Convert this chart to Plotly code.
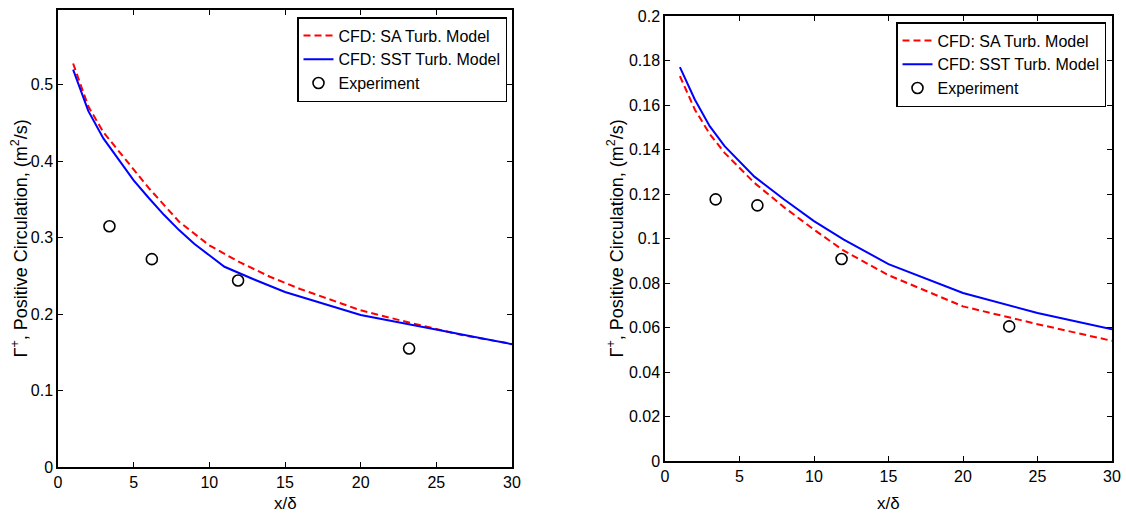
import plotly.graph_objects as go

# ---------------- data: left panel ----------------
left_sa_x = [1, 2, 3, 4, 6, 8, 10, 12, 14, 16, 18, 20, 23, 26.6, 30]
left_sa_y = [0.528, 0.472, 0.438, 0.414, 0.365, 0.321, 0.290, 0.268, 0.249, 0.233, 0.219, 0.205, 0.190, 0.173, 0.161]
left_sst_x = [1, 2, 3, 4, 5, 6, 7, 8, 9, 10, 11, 13, 15, 20, 25, 30]
left_sst_y = [0.520, 0.466, 0.430, 0.402, 0.375, 0.352, 0.330, 0.310, 0.292, 0.277, 0.262, 0.245, 0.229, 0.199, 0.180, 0.1607]
left_exp_x = [3.4, 6.2, 11.9, 23.2]
left_exp_y = [0.315, 0.272, 0.244, 0.155]

# ---------------- data: right panel ----------------
right_sa_x = [1, 2, 3, 4, 6, 8, 10, 12, 15, 20, 25, 30]
right_sa_y = [0.1730, 0.1580, 0.1470, 0.1385, 0.1250, 0.1140, 0.1040, 0.0945, 0.0835, 0.0695, 0.0615, 0.0540]
right_sst_x = [1, 2, 3, 4, 6, 8, 10, 12, 15, 20, 25, 30]
right_sst_y = [0.1770, 0.1625, 0.1505, 0.1415, 0.1278, 0.1175, 0.1078, 0.0995, 0.0885, 0.0755, 0.0665, 0.0592]
right_exp_x = [3.4, 6.2, 11.85, 23.1]
right_exp_y = [0.1176, 0.1149, 0.0908, 0.0605]

# ---------------- ticks / labels ----------------
x_ticks = [0, 5, 10, 15, 20, 25, 30]
x_ticktext = ["0", "5", "10", "15", "20", "25", "30"]
left_y_ticks = [0, 0.1, 0.2, 0.3, 0.4, 0.5]
left_y_ticktext = ["0", "0.1", "0.2", "0.3", "0.4", "0.5"]
right_y_ticks = [0, 0.02, 0.04, 0.06, 0.08, 0.1, 0.12, 0.14, 0.16, 0.18, 0.2]
right_y_ticktext = ["0", "0.02", "0.04", "0.06", "0.08", "0.1", "0.12", "0.14", "0.16", "0.18", "0.2"]

name_sa = "CFD: SA Turb. Model"
name_sst = "CFD: SST Turb. Model"
name_exp = "Experiment"
y_title = "Γ<sup>+</sup>, Positive Circulation, (m<sup>2</sup>/s)"
x_title = "x/δ"

FONT = "Liberation Sans, Arial, sans-serif"
W, H = 1126, 516

fig = go.Figure()

def add_panel(xa, ya, legend, sa_x, sa_y, sst_x, sst_y, ex_x, ex_y):
    fig.add_trace(go.Scatter(x=sa_x, y=sa_y, mode="lines", name=name_sa,
                             line=dict(color="#ff0000", width=2, dash="7px,4px"),
                             xaxis=xa, yaxis=ya, legend=legend))
    fig.add_trace(go.Scatter(x=sst_x, y=sst_y, mode="lines", name=name_sst,
                             line=dict(color="#0000ff", width=2),
                             xaxis=xa, yaxis=ya, legend=legend))
    fig.add_trace(go.Scatter(x=ex_x, y=ex_y, mode="markers", name=name_exp,
                             marker=dict(symbol="circle-open", size=11, color="black",
                                         line=dict(width=1.6, color="black")),
                             xaxis=xa, yaxis=ya, legend=legend))

add_panel("x", "y", "legend", left_sa_x, left_sa_y, left_sst_x, left_sst_y, left_exp_x, left_exp_y)
add_panel("x2", "y2", "legend2", right_sa_x, right_sa_y, right_sst_x, right_sst_y, right_exp_x, right_exp_y)

# pixel geometry of the two plot areas
L = dict(x0=58, x1=512, y0=10, y1=467)
R = dict(x0=665, x1=1112, y0=16, y1=461)

def xdom(p):
    return [p["x0"] / W, p["x1"] / W]

def ydom(p):
    return [1 - p["y1"] / H, 1 - p["y0"] / H]

axis_common = dict(showline=True, linecolor="black", linewidth=1.5, mirror="ticks",
                   ticks="inside", ticklen=5, tickwidth=1.3, tickcolor="black",
                   showgrid=False, zeroline=False, automargin=False,
                   tickfont=dict(family=FONT, size=16, color="black"))

legend_common = dict(xanchor="right", yanchor="top", bgcolor="white",
                     bordercolor="black", borderwidth=1.5, tracegroupgap=0,
                     font=dict(family=FONT, size=16, color="black"))

fig.update_layout(
    width=W, height=H,
    margin=dict(l=0, r=0, t=0, b=0),
    paper_bgcolor="white", plot_bgcolor="white",
    font=dict(family=FONT, color="black"),
    xaxis=dict(domain=xdom(L), range=[0, 30], tickvals=x_ticks, ticktext=x_ticktext, anchor="y", **axis_common),
    yaxis=dict(domain=ydom(L), range=[0, 0.598], tickvals=left_y_ticks, ticktext=left_y_ticktext, anchor="x", **axis_common),
    xaxis2=dict(domain=xdom(R), range=[0, 30], tickvals=x_ticks, ticktext=x_ticktext, anchor="y2", **axis_common),
    yaxis2=dict(domain=ydom(R), range=[0, 0.2], tickvals=right_y_ticks, ticktext=right_y_ticktext, anchor="x2", **axis_common),
    legend=dict(x=507 / W, y=1 - 17 / H, **legend_common),
    legend2=dict(x=1106 / W, y=1 - 22 / H, **legend_common),
    showlegend=True,
)

for p, xc in ((L, 20), (R, 616)):
    fig.add_annotation(text=y_title, textangle=-90, showarrow=False,
                       xref="paper", yref="paper", x=xc / W, y=1 - ((p["y0"] + p["y1"]) / 2) / H,
                       xanchor="center", yanchor="middle",
                       font=dict(family=FONT, size=18, color="black"))
    fig.add_annotation(text=x_title, showarrow=False,
                       xref="paper", yref="paper", x=((p["x0"] + p["x1"]) / 2) / W, y=1 - 503 / H,
                       xanchor="center", yanchor="middle",
                       font=dict(family=FONT, size=17, color="black"))

fig.write_html("out.html")
